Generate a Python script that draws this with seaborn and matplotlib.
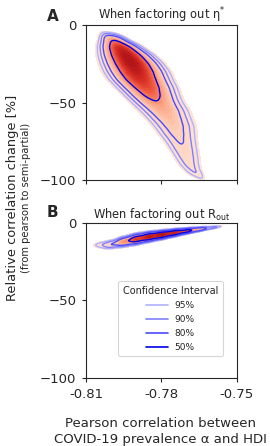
import numpy as np
import pandas as pd
import matplotlib
matplotlib.use("Agg")
import matplotlib.pyplot as plt
from matplotlib.colors import LinearSegmentedColormap
from matplotlib.lines import Line2D
import seaborn as sns

# panel A: rows of the density band (y level, centre of band in x, half width, peak)
a_y = [-7, -10, -15, -20, -25, -30, -35, -40, -45, -50, -55, -60, -65, -70, -75, -80, -85, -90, -95, -98]
a_center = [-0.8020, -0.7988, -0.7962, -0.7938, -0.7917, -0.7899, -0.7883, -0.7859, -0.7839, -0.7817,
            -0.7790, -0.7770, -0.7750, -0.7738, -0.7724, -0.7712, -0.7700, -0.7689, -0.7671, -0.7644]
a_half = [0.0030, 0.0070, 0.0100, 0.0122, 0.0135, 0.0143, 0.0142, 0.0139, 0.0132, 0.0129,
          0.0128, 0.0122, 0.0117, 0.0107, 0.0095, 0.0087, 0.0079, 0.0070, 0.0056, 0.0029]
a_weight = [0.06, 0.50, 0.90, 1.00, 1.00, 0.92, 0.82, 0.70, 0.58, 0.45,
            0.37, 0.31, 0.27, 0.24, 0.21, 0.19, 0.17, 0.15, 0.12, 0.07]

# panel B: columns of the density band (x level, centre in y, half width, peak)
b_x = [-0.806, -0.804, -0.800, -0.795, -0.790, -0.785, -0.780, -0.775, -0.770, -0.765, -0.760, -0.757]
b_center = [-14.0, -14.3, -14.0, -12.2, -10.5, -9.0, -7.8, -6.5, -5.3, -4.2, -3.2, -2.6]
b_half = [2.2, 3.8, 4.3, 4.5, 4.5, 4.0, 3.5, 3.0, 2.4, 1.9, 1.3, 0.7]
b_weight = [0.03, 0.08, 0.20, 0.45, 0.75, 0.95, 1.00, 0.90, 0.68, 0.42, 0.18, 0.06]

ci_labels = ["95%", "90%", "80%", "50%"]
ci_levels = [0.05, 0.10, 0.20, 0.50]
ci_colors = ["#b0b0ff", "#8080ff", "#4a4aff", "#0000e6"]

x_ticks = [-0.81, -0.78, -0.75]
y_ticks = [0, -50, -100]


def band_table_rows(ys, centers, halves, weights):
    xs = np.linspace(-0.81, -0.75, 121)
    rows = []
    for y, c, h, w in zip(ys, centers, halves, weights):
        wt = w * np.exp(-0.5 * ((xs - c) / (h / 2.5)) ** 2)
        rows.append(pd.DataFrame({"x": xs, "y": y, "w": wt}))
    df = pd.concat(rows)
    return df[df["w"] > 1e-4]


def band_table_cols(xs, centers, halves, weights):
    ys = np.linspace(-30, 0, 121)
    cols = []
    for x, c, h, w in zip(xs, centers, halves, weights):
        wt = w * np.exp(-0.5 * ((ys - c) / (h / 2.5)) ** 2)
        cols.append(pd.DataFrame({"x": x, "y": ys, "w": wt}))
    df = pd.concat(cols)
    return df[df["w"] > 1e-4]


reds = LinearSegmentedColormap.from_list(
    "peach_red", ["#fee6da", "#fdd0bc", "#fca283", "#f25d42", "#d62c23", "#b01418"])

sns.set_style("ticks")
plt.rcParams["font.family"] = ["DejaVu Sans"]

fig = plt.figure(figsize=(2.70, 4.46), dpi=100)
ax_a = fig.add_axes([0.3185, 0.5964, 0.559, 0.3475])
ax_b = fig.add_axes([0.3185, 0.1525, 0.559, 0.3480])

panels = [
    (ax_a, band_table_rows(a_y, a_center, a_half, a_weight), r"When factoring out η$^{*}$", 0.4),
    (ax_b, band_table_cols(b_x, b_center, b_half, b_weight), r"When factoring out R$_{\mathrm{out}}$", 0.5),
]

for ax, df, title, bw in panels:
    clip = ((-0.81, -0.75), (-100, 0))
    sns.kdeplot(ax=ax, data=df, x="x", y="y", weights="w", fill=True, levels=30,
                thresh=0.03, cmap=reds, bw_adjust=bw, gridsize=160, clip=clip)
    sns.kdeplot(ax=ax, data=df, x="x", y="y", weights="w", levels=ci_levels,
                colors=ci_colors, linewidths=1.0, bw_adjust=bw, gridsize=160, clip=clip)
    ax.set_xlim(-0.81, -0.75)
    ax.set_ylim(-100, 0)
    ax.set_xticks(x_ticks)
    ax.set_yticks(y_ticks)
    ax.set_xlabel("")
    ax.set_ylabel("")
    ax.set_title(title, fontsize=8.3, pad=3)
    ax.tick_params(labelsize=9.5, length=3, width=0.8, pad=4)
    for s in ax.spines.values():
        s.set_linewidth(0.8)

ax_a.set_xticklabels([])
ax_b.set_xticklabels(["-0.81", "-0.78", "-0.75"])

# legend for the confidence contours
handles = [Line2D([0], [0], color=c, lw=1.2) for c in ci_colors]
leg = ax_b.legend(handles, ci_labels, title="Confidence Interval", loc="lower right",
                  bbox_to_anchor=(0.905, 0.14), borderaxespad=0, fontsize=6.5,
                  title_fontsize=7, handlelength=2.4, labelspacing=0.55, borderpad=0.5,
                  frameon=True)
leg.get_frame().set_linewidth(0.8)

fig.text(0.172, 0.963, "A", fontsize=11, fontweight="bold", ha="left", va="center")
fig.text(0.172, 0.523, "B", fontsize=11, fontweight="bold", ha="left", va="center")

fig.text(0.045, 0.557, "Relative correlation change [%]", rotation=90, fontsize=9.4,
         ha="center", va="center")
fig.text(0.097, 0.557, "(from pearson to semi-partial)", rotation=90, fontsize=7.2,
         ha="center", va="center")
fig.text(0.594, 0.0325, "Pearson correlation between\nCOVID-19 prevalence α and HDI",
         fontsize=9.5, ha="center", va="center", linespacing=1.25)

fig.savefig("out.png", dpi=100)
